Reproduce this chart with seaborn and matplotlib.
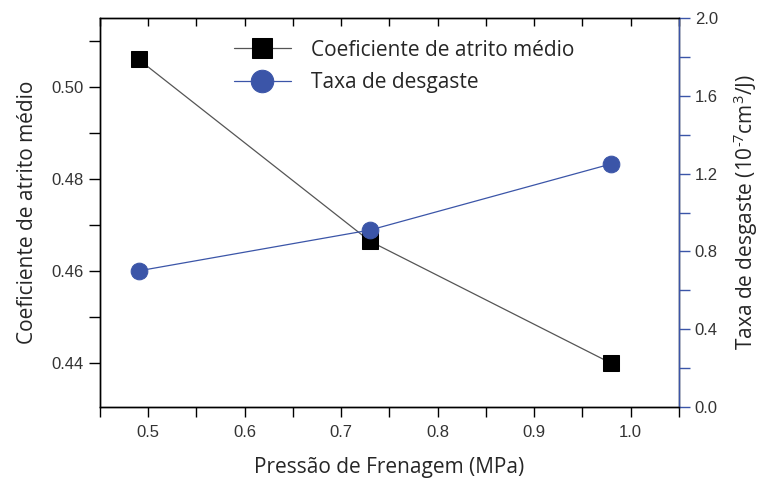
import matplotlib
matplotlib.use("Agg")
import matplotlib.pyplot as plt
from matplotlib.ticker import MultipleLocator, FormatStrFormatter
import seaborn as sns
import pandas as pd

# Braking pressure (MPa)
pressure = [0.49, 0.73, 0.98]
# Mean friction coefficient
friction = [0.506, 0.4665, 0.440]
# Wear rate (10^-7 cm^3/J)
wear = [0.70, 0.91, 1.25]

friction_label = "Coeficiente de atrito médio"
wear_label = "Taxa de desgaste"

sns.set_theme(style="white")
plt.rcParams["font.family"] = ["Liberation Sans", "DejaVu Sans"]
plt.rcParams["mathtext.fontset"] = "custom"
plt.rcParams["mathtext.rm"] = "Open Sans"
plt.rcParams["mathtext.it"] = "Open Sans:italic"

BLUE = "#3b55a8"
label_font = ["Open Sans", "DejaVu Sans"]

df = pd.DataFrame({"p": pressure, "mu": friction, "w": wear})

fig = plt.figure(figsize=(7.61, 4.80), dpi=100)
ax = fig.add_axes([0.1314, 0.152, 0.7606, 0.8105])
ax2 = ax.twinx()

sns.lineplot(data=df, x="p", y="mu", ax=ax, color="#555555", lw=0.9,
             marker="s", markersize=11, markerfacecolor="black",
             markeredgecolor="black", label=friction_label, legend=False)
sns.lineplot(data=df, x="p", y="w", ax=ax2, color=BLUE, lw=0.9,
             marker="o", markersize=12, markerfacecolor=BLUE,
             markeredgecolor=BLUE, label=wear_label, legend=False)

ax.set_xlim(0.45, 1.05)
ax.set_ylim(0.4305, 0.515)
ax2.set_ylim(0.0, 2.0)

ax.xaxis.set_major_locator(MultipleLocator(0.1))
ax.xaxis.set_minor_locator(MultipleLocator(0.05))
ax.xaxis.set_major_formatter(FormatStrFormatter("%.1f"))
ax.yaxis.set_major_locator(MultipleLocator(0.02))
ax.yaxis.set_minor_locator(MultipleLocator(0.01))
ax.yaxis.set_major_formatter(FormatStrFormatter("%.2f"))
ax2.yaxis.set_major_locator(MultipleLocator(0.4))
ax2.yaxis.set_minor_locator(MultipleLocator(0.2))
ax2.yaxis.set_major_formatter(FormatStrFormatter("%.1f"))

for a in (ax, ax2):
    for s in a.spines.values():
        s.set_linewidth(1.0)
        s.set_color("black")
ax2.spines["right"].set_color(BLUE)

TICK_FS = 12
ax.tick_params(axis="x", which="both", direction="out", bottom=True, top=True,
               labelsize=TICK_FS, labelcolor="#333333", color="black", pad=6,
               length=7, width=1.0)
ax.tick_params(axis="y", which="both", direction="out", left=True,
               labelsize=TICK_FS, labelcolor="#333333", color="black",
               length=8, width=1.0)
ax2.tick_params(axis="y", which="both", direction="out", right=True,
                labelsize=TICK_FS, labelcolor="#333333", color=BLUE,
                length=8, width=1.0)

# top ticks point into the plot
for t in ax.xaxis.get_major_ticks() + ax.xaxis.get_minor_ticks():
    t.tick2line.set_marker(matplotlib.lines.TICKDOWN)
    t.tick2line.set_markersize(6)

LABEL_FS = 15
ax.set_xlabel("Pressão de Frenagem (MPa)", fontsize=LABEL_FS,
              family=label_font, labelpad=12)
ax.set_ylabel(friction_label, fontsize=LABEL_FS, family=label_font,
              labelpad=10)
ax2.set_ylabel(r"Taxa de desgaste (10$^{\text{-}7}$cm$^{3}$/J)",
               fontsize=LABEL_FS, family=label_font, labelpad=10)

h1, l1 = ax.get_legend_handles_labels()
h2, l2 = ax2.get_legend_handles_labels()
fig.legend(h1 + h2, l1 + l2, loc="upper left",
           bbox_to_anchor=(0.296, 0.935), bbox_transform=fig.transFigure,
           frameon=False, markerscale=1.35, handlelength=2.75,
           handletextpad=0.95, borderaxespad=0.0,
           prop={"family": label_font, "size": LABEL_FS}, labelspacing=0.55)

fig.savefig("out.png", dpi=100)
